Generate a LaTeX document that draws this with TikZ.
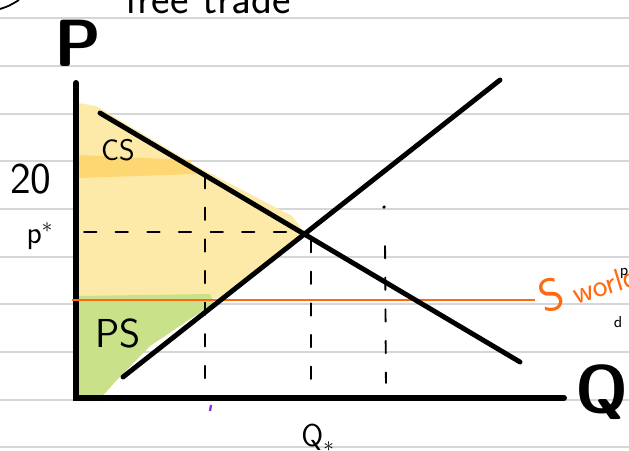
\documentclass[tikz,border=0pt]{standalone}
\usetikzlibrary{positioning}

\definecolor{csyellow}{HTML}{FDE9A8}
\definecolor{csband}{HTML}{FDD872}
\definecolor{psgreen}{HTML}{C9E28A}
\definecolor{worldorange}{HTML}{FF6A10}
\definecolor{paper}{HTML}{D6D6D6}
\definecolor{tickpurple}{HTML}{8A2BE2}

\tikzset{
  paperline/.style={paper, line width=0.8pt},
  axisline/.style={line width=3.4pt, line cap=round},
  curveline/.style={line width=2.8pt, line cap=round},
  guide/.style={line width=1.1pt, dash pattern=on 7pt off 11pt, line cap=round},
  lbl/.style={font=\sffamily, inner sep=0pt},
}

\begin{document}
\begin{tikzpicture}[x=0.02cm, y=-0.02cm]
        \useasboundingbox (0,0) rectangle (629,450);
        \clip (0,0) rectangle (629,450);
        \fill[white] (0,0) rectangle (629,450);

        % Ruled paper
        \foreach \y in {18,66,114,161,209,257,304,352,400,447} {
            \draw[paperline] (0,\y) -- (629,\y);
        }
        \draw[line width=1pt] (0,9) .. controls (9,6) .. (19,0);
        \node[lbl, anchor=base, font=\sffamily\fontsize{25}{26}\selectfont] (title) at (208,13) {free trade};

        % Surplus areas
        \begin{scope}
            \fill[csyellow] (78,103) -- (96,106) -- (200,168) -- (292,216) -- (304,232)
                -- (220,298) -- (78,298) -- cycle;
            \fill[csband] (78,155) -- (190,160) -- (196,174) -- (78,178) -- cycle;
            \fill[psgreen] (78,296) -- (210,294) -- (214,303) -- (150,346)
                -- (115,382) -- (98,401) -- (78,401) -- cycle;
        \end{scope}

        % Axes
        \coordinate (O) at (76,398);
        \coordinate (ytop) at (76,83);
        \coordinate (xend) at (564,398);
        \draw[axisline] (ytop) -- (O) -- (xend);
        \node[lbl, font=\sffamily\bfseries\fontsize{38}{40}\selectfont] (plab) at (78,43) {P};
        \node[lbl, font=\sffamily\bfseries\fontsize{38}{40}\selectfont] (qlab) at (602,392) {Q};

        % World price
        \coordinate (w0) at (72,300);
        \coordinate (w1) at (535,300);
        \draw[worldorange, line width=1.1pt] (w0) -- (w1);
        \node[lbl, worldorange, rotate=17, anchor=base west,
              font=\sffamily\fontsize{18}{20}\selectfont] (swld) at (544,314)
              {{\fontsize{26}{28}\selectfont S} world};
        \node[lbl, font=\sffamily\fontsize{9}{10}\selectfont] (pcut) at (624,273) {p};
        \node[lbl, font=\sffamily\fontsize{9}{10}\selectfont] (dcut) at (618,322) {d};

        % Demand and supply
        \coordinate (d0) at (100,113);
        \coordinate (d1) at (520,362);
        \coordinate (s0) at (123,377);
        \coordinate (s1) at (500,80);
        \draw[curveline] (d0) -- (d1);
        \draw[curveline] (s0) -- (s1);

        % Guide lines
        \coordinate (g0) at (84,232);
        \coordinate (g1) at (296,232);
        \coordinate (a0) at (205,176);
        \coordinate (a1) at (205,390);
        \coordinate (b0) at (311,240);
        \coordinate (b1) at (311,380);
        \coordinate (c0) at (385,246);
        \coordinate (c1) at (386,383);
        \draw[guide] (g0) -- (g1);
        \draw[guide] (a0) -- (a1);
        \draw[guide] (b0) -- (b1);
        \draw[guide] (c0) -- (c1);
        \fill (384,207) circle (1pt);
        \draw[tickpurple, line width=1.3pt] (211,405) -- (210,411);

        % Labels
        \node[lbl, font=\sffamily\fontsize{25}{26}\selectfont] (twenty) at (31,179) {20};
        \node[lbl, font=\sffamily\fontsize{18}{20}\selectfont] (pstar) at (40,236) {p$^*$};
        \node[lbl, font=\sffamily\fontsize{17}{18}\selectfont] (cs) at (118,150) {CS};
        \node[lbl, font=\sffamily\fontsize{23}{24}\selectfont] (ps) at (118,333) {PS};
        \node[lbl, font=\sffamily\fontsize{18}{20}\selectfont] (qstar) at (318,438) {Q$_*$};
\end{tikzpicture}
\end{document}
